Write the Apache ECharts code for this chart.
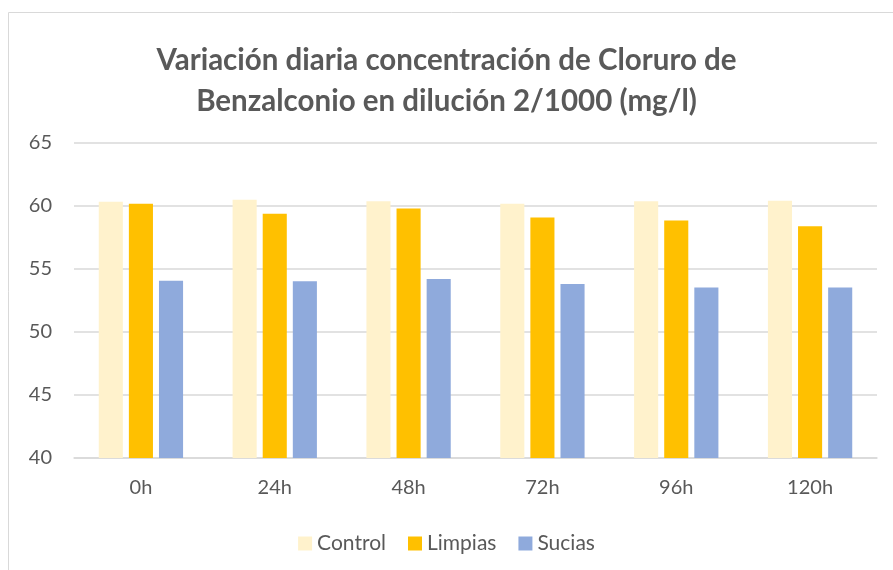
<!DOCTYPE html>
<html><head><meta charset="utf-8">
<script src="https://cdn.jsdelivr.net/npm/echarts@6/dist/echarts.min.js"></script>
<style>html,body{margin:0;padding:0;background:#fff}#c{width:893px;height:570px}</style>
</head><body><div id="c"></div>
<script>
const categories = ['0h','24h','48h','72h','96h','120h'];
const control = [60.34, 60.5, 60.37, 60.18, 60.37, 60.42];
const limpias = [60.18, 59.39, 59.81, 59.09, 58.85, 58.4];
const sucias = [54.07, 54.02, 54.2, 53.8, 53.54, 53.54];
const titleText = 'Variación diaria concentración de Cloruro de\nBenzalconio en dilución 2/1000 (mg/l)';
const font = 'Lato, "Open Sans", sans-serif';
const chart = echarts.init(document.getElementById('c'), null, {renderer:'canvas'});
chart.setOption({
  animation:false,
  graphic:[{type:'rect', shape:{x:8.5,y:12.5,width:900,height:600}, style:{fill:'none', stroke:'#d9d9d9', lineWidth:1}, silent:true}],
  title:{text:titleText, left:'center', top:35, textStyle:{fontFamily:font, fontSize:29.5, fontWeight:'bold', color:'#595959', lineHeight:41}},
  legend:{bottom:11, left:'center', itemWidth:14, itemHeight:14, itemGap:22, icon:'rect',
    textStyle:{fontFamily:font, fontSize:21, color:'#595959'}, data:['Control','Limpias','Sucias']},
  grid:{left:74, right:16, top:143, bottom:112},
  xAxis:{type:'category', data:categories, axisTick:{show:false},
    axisLine:{lineStyle:{color:'#d9d9d9', width:1.5}},
    axisLabel:{fontFamily:font, fontSize:20, color:'#595959', margin:20}},
  yAxis:{type:'value', min:40, max:65, interval:5,
    axisLabel:{fontFamily:font, fontSize:20, color:'#595959', margin:22},
    splitLine:{lineStyle:{color:'#d9d9d9', width:1.5}}},
  series:[
    {name:'Control', type:'bar', data:control, barWidth:'18%', barGap:'25%', itemStyle:{color:'#FFF2CC'}},
    {name:'Limpias', type:'bar', data:limpias, barWidth:'18%', barGap:'25%', itemStyle:{color:'#FFC000'}},
    {name:'Sucias', type:'bar', data:sucias, barWidth:'18%', barGap:'25%', itemStyle:{color:'#8FAADC'}}
  ]
});
</script></body></html>
